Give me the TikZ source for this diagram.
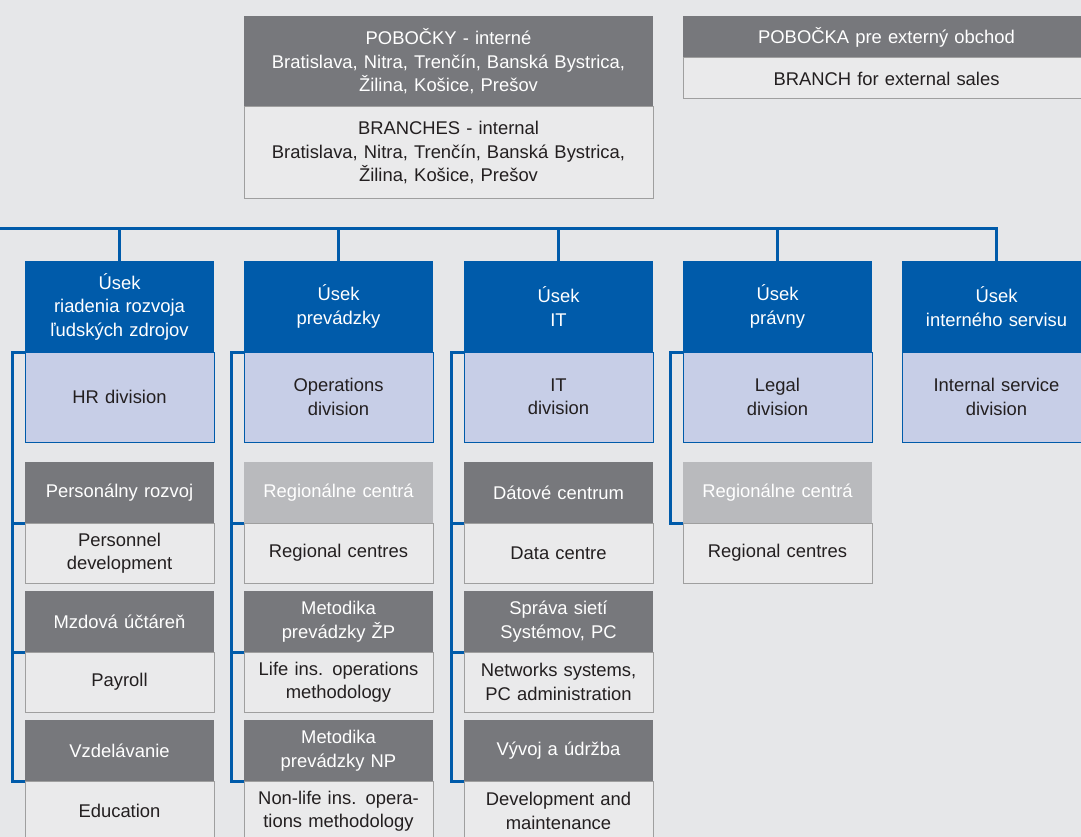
\documentclass[tikz,border=0pt]{standalone}
\usepackage{fontspec}
\setmainfont{Liberation Sans}
\usetikzlibrary{positioning}

\definecolor{bg}{HTML}{E6E7E9}
\definecolor{ublue}{HTML}{005BAA}
\definecolor{ulight}{HTML}{C7CEE7}
\definecolor{dgrey}{HTML}{77787C}
\definecolor{lgrey}{HTML}{B9BABD}
\definecolor{efill}{HTML}{EAEAEB}
\definecolor{etext}{HTML}{231F20}

\begin{document}
\begin{tikzpicture}
	[x=1pt,y=-1pt,
	box/.style={inner sep=0pt,outer sep=0pt,align=center,text width=#1,minimum width=#1,
		font=\fontsize{18.4}{23.5}\selectfont},
	head/.style={box=189,anchor=north west,fill=ublue,text=white,minimum height=91},
	div/.style={box=189,fill=ulight,draw=ublue,line width=1pt,text=etext,minimum height=90},
	sub/.style={box=#1,anchor=north west,fill=dgrey,text=white,minimum height=61},
	sub/.default=189,
	subl/.style={sub,fill=lgrey},
	eng/.style={box=#1,fill=efill,draw=gray!75,line width=1pt,text=etext,minimum height=60},
	eng/.default=189,
	bus/.style={draw=ublue,line width=3pt}]

    \useasboundingbox (0,0) rectangle (1081,837);
    \clip (0,0) rectangle (1081,837);
    \fill[bg] (0,0) rectangle (1081,837);

    \node[sub=409,minimum height=91] (P) at (244,16) {POBOČKY - interné\\Bratislava, Nitra, Trenčín, Banská Bystrica,\\Žilina, Košice, Prešov};
    \node[eng=409,minimum height=92,below=0pt of P] (Pe) {BRANCHES - internal\\Bratislava, Nitra, Trenčín, Banská Bystrica,\\Žilina, Košice, Prešov};
    \node[sub=407,minimum height=42] (X) at (683,16) {POBOČKA pre externý obchod};
    \node[eng=407,minimum height=41,below=0pt of X] (Xe) {BRANCH for external sales};

    \node[head] (D1) at (25,261) {Úsek\\riadenia rozvoja\\ľudských zdrojov};
    \node[div,below=0pt of D1] (D1e) {HR division};
    \node[head] (D2) at (244,261) {Úsek\\prevádzky};
    \node[div,below=0pt of D2] (D2e) {Operations\\division};
    \node[head] (D3) at (464,261) {Úsek\\IT};
    \node[div,below=0pt of D3] (D3e) {IT\\division};
    \node[head] (D4) at (683,261) {Úsek\\právny};
    \node[div,below=0pt of D4] (D4e) {Legal\\division};
    \node[head] (D5) at (902,261) {Úsek\\interného servisu};
    \node[div,below=0pt of D5] (D5e) {Internal service\\division};

    \node[sub] (S11) at (25,462) {Personálny rozvoj};
    \node[eng,below=0pt of S11] (S11e) {Personnel\\development};
    \node[sub] (S12) at (25,591) {Mzdová účtáreň};
    \node[eng,below=0pt of S12] (S12e) {Payroll};
    \node[sub] (S13) at (25,720) {Vzdelávanie};
    \node[eng,below=0pt of S13] (S13e) {Education};

    \node[subl] (S21) at (244,462) {Regionálne centrá};
    \node[eng,below=0pt of S21] (S21e) {Regional centres};
    \node[sub] (S22) at (244,591) {Metodika\\prevádzky ŽP};
    \node[eng,below=0pt of S22] (S22e) {Life ins. operations\\methodology};
    \node[sub] (S23) at (244,720) {Metodika\\prevádzky NP};
    \node[eng,below=0pt of S23] (S23e) {Non-life ins. opera-\\tions methodology};

    \node[sub] (S31) at (464,462) {Dátové centrum};
    \node[eng,below=0pt of S31] (S31e) {Data centre};
    \node[sub] (S32) at (464,591) {Správa sietí\\Systémov, PC};
    \node[eng,below=0pt of S32] (S32e) {Networks systems,\\PC administration};
    \node[sub] (S33) at (464,720) {Vývoj a údržba};
    \node[eng,below=0pt of S33] (S33e) {Development and\\maintenance};

    \node[subl] (S41) at (683,462) {Regionálne centrá};
    \node[eng,below=0pt of S41] (S41e) {Regional centres};

    \coordinate (B) at (0,228);
    \draw[bus] (B) -| (D5.north);
    \foreach \d in {D1,D2,D3,D4}
        \draw[bus] (\d.north) -- (\d.north |- B);

    \draw[bus] (D1.south west) -- ++(-13,0) |- (S13.south west);
    \draw[bus] (D2.south west) -- ++(-13,0) |- (S23.south west);
    \draw[bus] (D3.south west) -- ++(-13,0) |- (S33.south west);
    \draw[bus] (D4.south west) -- ++(-13,0) |- (S41.south west);
    \foreach \s in {S11,S12,S21,S22,S31,S32}
        \draw[bus] (\s.south west) -- ++(-13,0);

\end{tikzpicture}
\end{document}
